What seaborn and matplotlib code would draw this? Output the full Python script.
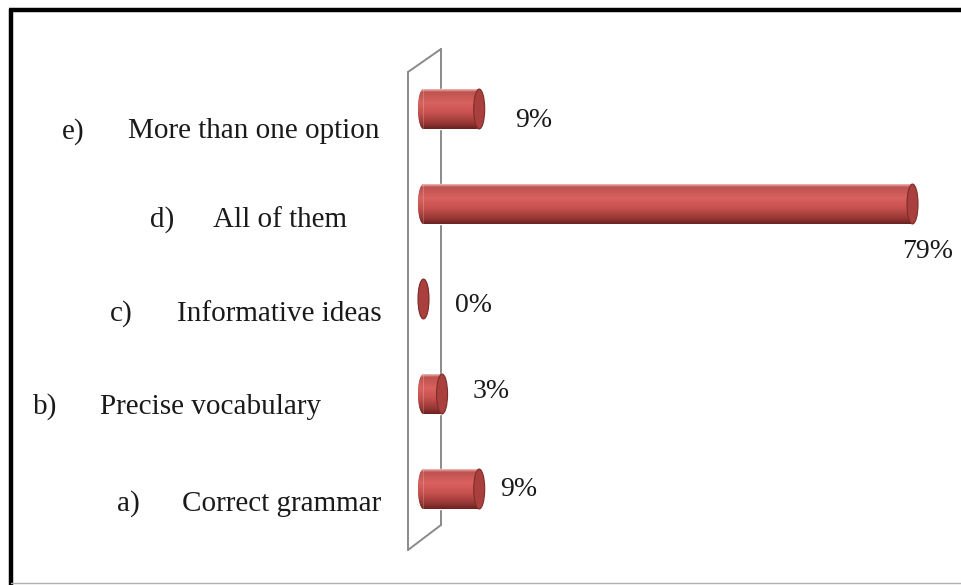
import numpy as np
import pandas as pd
import matplotlib
matplotlib.use("Agg")
import matplotlib.pyplot as plt
import matplotlib.transforms as mtransforms
from matplotlib.patches import Ellipse
from matplotlib.lines import Line2D
import seaborn as sns

letters = ["e)", "d)", "c)", "b)", "a)"]
options = ["More than one option", "All of them", "Informative ideas",
           "Precise vocabulary", "Correct grammar"]
pct = [9, 79, 0, 3, 9]
pct_labels = ["9%", "79%", "0%", "3%", "9%"]

df = pd.DataFrame({"option": options, "pct": pct})

sns.set_theme(style="white")
plt.rcParams["font.family"] = ["Liberation Serif", "DejaVu Serif"]

W, H = 961, 585
fig = plt.figure(figsize=(W / 100, H / 100), dpi=100)

def fx(x):
    return x / W

def fy(y):
    return 1 - y / H

# axes placed so the bars land where the reference has them
ppu = 6.19
x0_px = 423.5
xmin, xmax = -2, 86.8
ax = fig.add_axes([fx(x0_px + xmin * ppu), (H - 536.5) / H,
                   (xmax - xmin) * ppu / W, 475 / H])
ax.patch.set_visible(False)

bar_h = 0.42
sns.barplot(data=df, x="pct", y="option", orient="h", color="#C0504D",
            saturation=1, width=bar_h, ax=ax, zorder=3)

# cylinder shading
stops = [(0.0, "#EFB3B1"), (0.07, "#BC524F"), (0.35, "#D9625F"),
         (0.6, "#C6514E"), (0.85, "#993836"), (1.0, "#6A2321")]
pos = np.linspace(0, 1, 64)
rgb = np.array([matplotlib.colors.to_rgb(c) for _, c in stops])
grad = np.stack([np.interp(pos, [s for s, _ in stops], rgb[:, k]) for k in range(3)], axis=-1)
grad = grad[:, None, :]

cap_w = 11 / ppu
for i, bar in enumerate(ax.patches[:len(pct)]):
    v = bar.get_width()
    yc = bar.get_y() + bar.get_height() / 2
    left = Ellipse((0, yc), cap_w, bar_h, facecolor="#A84340", edgecolor="none", zorder=2)
    ax.add_patch(left)
    im = ax.imshow(grad, extent=(-cap_w, v + 0.01, yc + bar_h / 2, yc - bar_h / 2),
                   aspect="auto", origin="upper", interpolation="bilinear", zorder=2.5)
    im.set_clip_path(left)
    im2 = ax.imshow(grad, extent=(-cap_w, v + 0.01, yc + bar_h / 2, yc - bar_h / 2),
                    aspect="auto", origin="upper", interpolation="bilinear", zorder=4)
    im2.set_clip_path(bar)
    right = Ellipse((v, yc), cap_w, bar_h, facecolor="#A9403D",
                    edgecolor="#7E2C2A", linewidth=0.8, zorder=5)
    ax.add_patch(right)

ax.set_xlim(xmin, xmax)
ax.set_ylim(len(pct) - 0.5, -0.5)
ax.set_xticks([])
ax.set_yticks([])
ax.set_xlabel("")
ax.set_ylabel("")
for s in ax.spines.values():
    s.set_visible(False)

# category labels (list letter + text)
blend = mtransforms.blended_transform_factory(fig.transFigure, ax.transData)
letter_x = [62, 150, 110, 33, 117]
text_x = [128, 213, 177, 100, 182]
base_off = [0.31, 0.24, 0.23, 0.21, 0.23]
for i in range(len(options)):
    ax.text(fx(letter_x[i]), i + base_off[i], letters[i], transform=blend,
            fontsize=21, va="baseline", ha="left", color="#1a1a1a")
    ax.text(fx(text_x[i]), i + base_off[i], options[i], transform=blend,
            fontsize=21, va="baseline", ha="left", color="#1a1a1a")

# value labels
lab_dx = [36, -10, 31, 30, 21]
lab_dy = [-18, -54, -13, -4, -7]
for i, v in enumerate(pct):
    ax.annotate(pct_labels[i], xy=(v, i), xytext=(lab_dx[i], lab_dy[i]),
                textcoords="offset pixels", fontsize=20, va="baseline",
                ha="left", color="#1a1a1a", annotation_clip=False)

# the slanted back wall of the 3D chart
wall = "#8A8A8A"
for (xa, ya), (xb, yb) in [((408, 72), (408, 550)), ((441, 49), (441, 525)),
                           ((408, 72), (441, 49)), ((408, 550), (441, 525))]:
    fig.add_artist(Line2D([fx(xa), fx(xb)], [fy(ya), fy(yb)], color=wall,
                          lw=1.4, zorder=-1))

# picture frame
fig.add_artist(Line2D([fx(9), fx(961)], [fy(10), fy(10)], color="black", lw=3.2,
                      solid_capstyle="butt"))
fig.add_artist(Line2D([fx(11), fx(11)], [fy(8.5), fy(585)], color="black", lw=3.2,
                      solid_capstyle="butt"))
fig.add_artist(Line2D([fx(11), fx(961)], [fy(583), fy(583)], color="#B0B0B0", lw=1))

fig.savefig("out.png", dpi=100, facecolor="white")
